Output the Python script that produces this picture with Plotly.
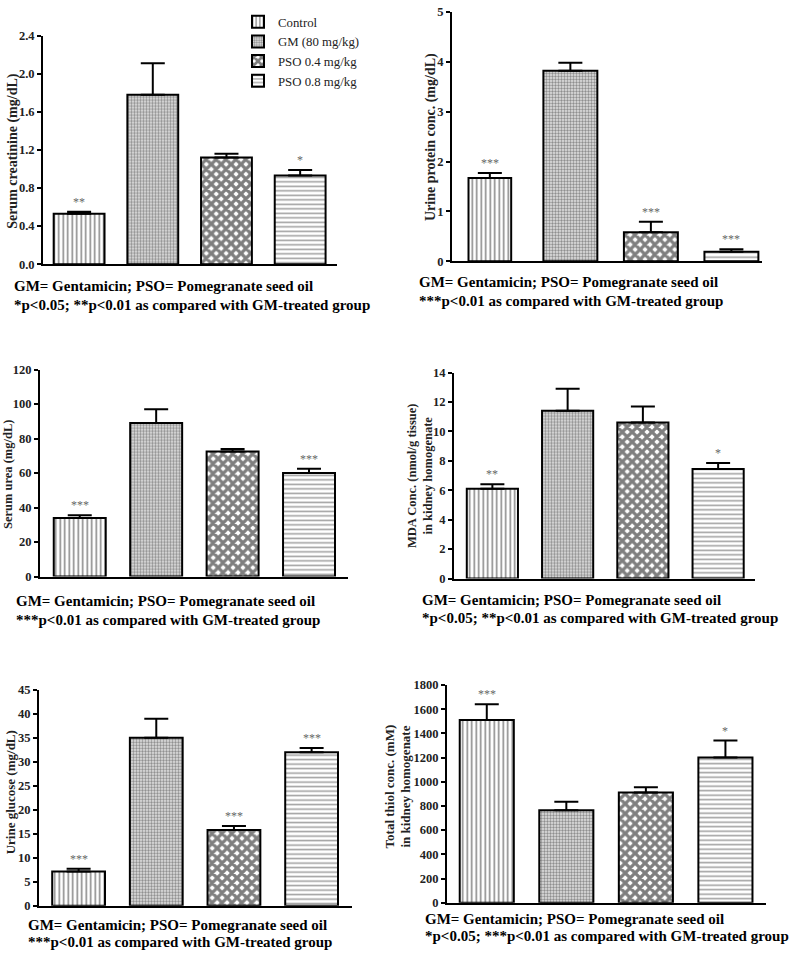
import plotly.graph_objects as go

W, H = 798, 957

groups = ["Control", "GM (80 mg/kg)", "PSO 0.4 mg/kg", "PSO 0.8 mg/kg"]

# panel data: means and upper error-bar tops
creat_mean = [0.53, 1.78, 1.12, 0.93]
creat_top = [0.55, 2.11, 1.16, 0.99]
creat_sig = ["**", "", "", "*"]

prot_mean = [1.67, 3.82, 0.58, 0.19]
prot_top = [1.77, 3.98, 0.79, 0.24]
prot_sig = ["***", "", "***", "***"]

urea_mean = [34, 89, 72.5, 60]
urea_top = [35.5, 97, 74, 62.5]
urea_sig = ["***", "", "", "***"]

mda_mean = [6.1, 11.4, 10.6, 7.45]
mda_top = [6.4, 12.9, 11.7, 7.85]
mda_sig = ["**", "", "", "*"]

gluc_mean = [7.1, 35, 15.8, 32]
gluc_top = [7.7, 39, 16.6, 32.9]
gluc_sig = ["***", "", "***", "***"]

thiol_mean = [1510, 765, 910, 1200]
thiol_top = [1640, 835, 955, 1340]
thiol_sig = ["***", "", "", "*"]

line1 = "GM= Gentamicin; PSO= Pomegranate seed oil"
cap_creat = "*p<0.05; **p<0.01 as compared with GM-treated group"
cap_prot = "***p<0.01 as compared with GM-treated group"
cap_urea = "***p<0.01 as compared with GM-treated group"
cap_mda = "*p<0.05; **p<0.01 as compared with GM-treated group"
cap_gluc = "***p<0.01 as compared with GM-treated group"
cap_thiol = "*p<0.05; ***p<0.01 as compared with GM-treated group"

SERIF = "Liberation Serif"

patterns = [
    dict(shape="|", fgcolor="#111", bgcolor="white", size=4.5, solidity=0.35),
    dict(shape=".", fgcolor="#333", bgcolor="#e6e6e6", size=3, solidity=0.5),
    dict(shape="x", fgcolor="#000", bgcolor="white", size=7, solidity=0.72),
    dict(shape="-", fgcolor="#444", bgcolor="white", size=4.5, solidity=0.35),
]

panels = [
    dict(mean=creat_mean, top=creat_top, sig=creat_sig, px=(43, 337, 29, 261), xr=[-0.49, 3.5], ymax=2.4, dtick=0.4, fmt=".1f",
         title="Serum creatinine (mg/dL)", tpos=(13, 146), tsize=14, cap=cap_creat, cpos=(12, 283, 302), widths=[0.69]*4),
    dict(mean=prot_mean, top=prot_top, sig=prot_sig, px=(452, 762, 5, 258), xr=[-0.47, 3.38], ymax=5, dtick=1, fmt="d",
         title="Urine protein conc. (mg/dL)", tpos=(431, 132), tsize=14, cap=cap_prot, cpos=(417, 279, 298), widths=[0.53, 0.67, 0.67, 0.67]),
    dict(mean=urea_mean, top=urea_top, sig=urea_sig, px=(40, 348, 368, 578), xr=[-0.52, 3.51], ymax=120, dtick=20, fmt="d",
         title="Serum urea (mg/dL)", tpos=(8, 474), tsize=12.5, cap=cap_urea, cpos=(14, 603, 622), widths=[0.68]*4),
    dict(mean=mda_mean, top=mda_top, sig=mda_sig, px=(454, 755, 371, 580), xr=[-0.51, 3.49], ymax=14, dtick=2, fmt="d",
         title="MDA Conc. (nmol/g tissue)<br>in kidney homogenate", tpos=(420, 476), tsize=12.5, cap=cap_mda, cpos=(420, 602, 620), widths=[0.68]*4),
    dict(mean=gluc_mean, top=gluc_top, sig=gluc_sig, px=(39, 352, 693, 912), xr=[-0.51, 3.52], ymax=45, dtick=5, fmt="d",
         title="Urine glucose (mg/dL)", tpos=(10, 797), tsize=13, cap=cap_gluc, cpos=(26, 932, 949), widths=[0.68]*4),
    dict(mean=thiol_mean, top=thiol_top, sig=thiol_sig, px=(447, 766, 688, 909), xr=[-0.50, 3.51], ymax=1800, dtick=200, fmt="d",
         title="Total thiol conc. (mM)<br>in kidney homogenate", tpos=(398, 791), tsize=13, cap=cap_thiol, cpos=(423, 926, 943), widths=[0.68]*4),
]

fig = go.Figure()
annotations = []
layout = {}

for k, p in enumerate(panels):
    n = k + 1
    xa = "x" if n == 1 else f"x{n}"
    ya = "y" if n == 1 else f"y{n}"
    xl, xr_, yt, yb = p["px"]
    for i, g in enumerate(groups):
        err = p["top"][i] - p["mean"][i]
        fig.add_trace(go.Bar(
            x=[i], y=[p["mean"][i]], width=[p["widths"][i]], name=g,
            xaxis=xa, yaxis=ya, showlegend=(n == 1), legendgroup=g,
            marker=dict(color="white", line=dict(color="black", width=2), pattern=patterns[i]),
            error_y=dict(type="data", symmetric=False, array=[err], arrayminus=[0],
                         color="black", thickness=2, width=12),
        ))
        if p["sig"][i]:
            annotations.append(dict(x=i, y=p["top"][i], xref=xa, yref=ya, text=p["sig"][i],
                                    showarrow=False, yanchor="bottom", yshift=1,
                                    font=dict(family=SERIF, size=12, color="#666")))
    xkey = "xaxis" if n == 1 else f"xaxis{n}"
    ykey = "yaxis" if n == 1 else f"yaxis{n}"
    layout[xkey] = dict(domain=[xl / W, xr_ / W], range=p["xr"], anchor=ya, showticklabels=False,
                        ticks="", showgrid=False, zeroline=False, showline=True, linecolor="black", linewidth=2)
    layout[ykey] = dict(domain=[1 - yb / H, 1 - yt / H], range=[0, p["ymax"]], dtick=p["dtick"], tick0=0,
                        tickformat=p["fmt"], anchor=xa, showgrid=False, zeroline=False, showline=True,
                        linecolor="black", linewidth=2, ticks="outside", ticklen=4, tickwidth=2, tickcolor="black",
                        tickfont=dict(family=SERIF, size=12.5, color="#222", weight="bold"))
    tx, ty = p["tpos"]
    annotations.append(dict(x=tx / W, y=1 - ty / H, xref="paper", yref="paper", text="<b>" + p["title"] + "</b>",
                            textangle=-90, showarrow=False, xanchor="center", yanchor="middle",
                            font=dict(family=SERIF, size=p["tsize"], color="#222")))
    cx, c1, c2 = p["cpos"]
    annotations.append(dict(x=cx / W, y=1 - c1 / H, xref="paper", yref="paper", text="<b>" + line1 + "</b>",
                            showarrow=False, xanchor="left", yanchor="middle",
                            font=dict(family=SERIF, size=15, color="black")))
    annotations.append(dict(x=cx / W, y=1 - c2 / H, xref="paper", yref="paper", text="<b>" + p["cap"] + "</b>",
                            showarrow=False, xanchor="left", yanchor="middle",
                            font=dict(family=SERIF, size=15, color="black")))

fig.update_layout(
    width=W, height=H, margin=dict(l=0, r=0, t=0, b=0),
    paper_bgcolor="white", plot_bgcolor="white",
    barmode="overlay", annotations=annotations,
    legend=dict(x=238 / W, y=1.0, xanchor="left", yanchor="top",
                font=dict(family=SERIF, size=12.8, color="#222"), bgcolor="rgba(0,0,0,0)",
                tracegroupgap=0, itemwidth=30),
    **layout,
)

fig.write_html("out.html", config={"displayModeBar": False},
               post_script="document.body.style.margin='0px';")
